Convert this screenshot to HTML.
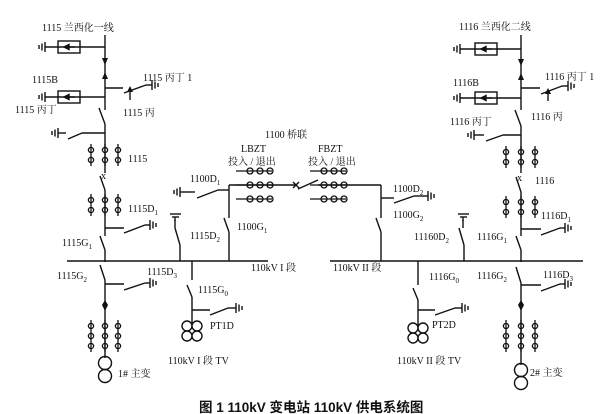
<!DOCTYPE html>
<html><head><meta charset="utf-8"><style>
html,body{margin:0;padding:0;background:#fff;}
svg{display:block;}
text{font-family:"Liberation Serif","Noto Serif CJK SC","Noto Sans CJK SC",serif;font-size:10px;fill:#111;}
.t{font-family:"Liberation Sans","Noto Sans CJK SC",sans-serif;font-size:13.5px;font-weight:bold;}
</style></head><body>
<svg width="608" height="414" viewBox="0 0 608 414" xmlns="http://www.w3.org/2000/svg">
<defs>
<g id="gL" stroke="#111" stroke-width="1.4" fill="none"><line x1="0" y1="-5" x2="0" y2="5"/><line x1="-3" y1="-3.5" x2="-3" y2="3.5"/><line x1="-6" y1="-2" x2="-6" y2="2"/></g>
<g id="gR" stroke="#111" stroke-width="1.4" fill="none"><line x1="0" y1="-5" x2="0" y2="5"/><line x1="3" y1="-3.5" x2="3" y2="3.5"/><line x1="6" y1="-2" x2="6" y2="2"/></g>
<g id="c2" stroke="#111" stroke-width="1.3" fill="none"><circle cx="0" cy="0" r="2.6"/><circle cx="0" cy="10" r="2.6"/><line x1="0" y1="-6" x2="0" y2="16"/></g>
<g id="c3" stroke="#111" stroke-width="1.3" fill="none"><circle cx="0" cy="0" r="2.6"/><circle cx="0" cy="10" r="2.6"/><circle cx="0" cy="20" r="2.6"/><line x1="0" y1="-6" x2="0" y2="26"/></g>
<g id="h3" stroke="#111" stroke-width="1.3" fill="none"><line x1="-14" y1="0" x2="22" y2="0"/><circle cx="0" cy="0" r="3"/><circle cx="10" cy="0" r="3"/><circle cx="20" cy="0" r="3"/></g>
<g id="box" stroke="#111" stroke-width="1.4" fill="none"><rect x="0" y="-6" width="22" height="12"/><line x1="7" y1="0" x2="17" y2="0"/><path d="M6 0 L11 -2.5 L11 2.5Z" fill="#111"/></g>
<g id="tv" stroke="#111" stroke-width="1.4" fill="#fff"><circle cx="-5" cy="-5" r="5"/><circle cx="5" cy="-5" r="5"/><circle cx="-5" cy="5" r="5"/><circle cx="5" cy="5" r="5"/></g>
</defs>
<g stroke="#111" stroke-width="1.4" fill="none">
<line x1="105" y1="35" x2="105" y2="110"/>
<line x1="45" y1="47" x2="105" y2="47"/>
<line x1="45" y1="97" x2="105" y2="97"/>
<line x1="105" y1="88" x2="123" y2="88"/>
<line x1="124" y1="93" x2="146" y2="85"/><line x1="146" y1="85" x2="152" y2="85"/>
<line x1="130" y1="90" x2="130" y2="100"/>
<line x1="99" y1="108" x2="105" y2="124"/>
<line x1="105" y1="124" x2="105" y2="173"/>
<line x1="105" y1="133" x2="82" y2="133"/><line x1="82" y1="133" x2="68" y2="139"/><line x1="58" y1="133" x2="66" y2="133"/>
<line x1="100" y1="176" x2="105" y2="190"/>
<line x1="105" y1="190" x2="105" y2="236"/>
<line x1="105" y1="228" x2="124" y2="228"/><line x1="124" y1="233" x2="145" y2="225"/><line x1="145" y1="225" x2="150" y2="225"/>
<line x1="100" y1="236" x2="105" y2="250"/>
<line x1="105" y1="250" x2="105" y2="262"/>
<line x1="100" y1="265" x2="105" y2="280"/>
<line x1="105" y1="280" x2="105" y2="358"/>
<line x1="105" y1="284" x2="124" y2="284"/><line x1="124" y1="290" x2="145" y2="283"/><line x1="145" y1="283" x2="150" y2="283"/>
<line x1="67" y1="261" x2="268" y2="261" stroke-width="1.6"/>
<line x1="175" y1="228" x2="180" y2="245"/><line x1="180" y1="245" x2="180" y2="261"/>
<line x1="175" y1="220" x2="175" y2="228"/>
<line x1="192" y1="261" x2="192" y2="280"/>
<line x1="187" y1="285" x2="192" y2="297"/>
<line x1="192" y1="297" x2="192" y2="325"/>
<line x1="192" y1="310" x2="210" y2="310"/><line x1="210" y1="315" x2="228" y2="308"/><line x1="228" y1="308" x2="236" y2="308"/>
<line x1="180" y1="192" x2="195" y2="192"/><line x1="197" y1="198" x2="218" y2="190"/>
<line x1="218" y1="190" x2="229" y2="190"/>
<line x1="229" y1="185" x2="229" y2="218"/>
<line x1="224" y1="218" x2="229" y2="232"/>
<line x1="229" y1="232" x2="229" y2="261"/>
<line x1="229" y1="185" x2="296" y2="185"/>
<line x1="293" y1="182" x2="299" y2="188"/><line x1="299" y1="182" x2="293" y2="188"/>
<line x1="298" y1="189" x2="318" y2="180"/>
<line x1="318" y1="185" x2="381" y2="185"/>
<line x1="381" y1="185" x2="381" y2="218"/>
<line x1="376" y1="218" x2="381" y2="232"/>
<line x1="381" y1="232" x2="381" y2="261"/>
<line x1="381" y1="198" x2="394" y2="198"/><line x1="394" y1="203" x2="414" y2="196"/><line x1="414" y1="196" x2="428" y2="196"/>
<line x1="330" y1="261" x2="583" y2="261" stroke-width="1.6"/>
<line x1="459" y1="228" x2="464" y2="245"/><line x1="464" y1="245" x2="464" y2="261"/>
<line x1="463" y1="220" x2="463" y2="228"/>
<line x1="418" y1="261" x2="418" y2="285"/>
<line x1="413" y1="288" x2="418" y2="300"/>
<line x1="418" y1="300" x2="418" y2="327"/>
<line x1="418" y1="310" x2="435" y2="310"/><line x1="435" y1="315" x2="455" y2="308"/><line x1="455" y1="308" x2="462" y2="308"/>
<line x1="521" y1="35" x2="521" y2="110"/>
<line x1="460" y1="49" x2="521" y2="49"/>
<line x1="460" y1="98" x2="521" y2="98"/>
<line x1="521" y1="88" x2="540" y2="88"/>
<line x1="541" y1="94" x2="562" y2="86"/><line x1="562" y1="86" x2="568" y2="86"/>
<line x1="548" y1="91" x2="548" y2="101"/>
<line x1="515" y1="110" x2="521" y2="126"/>
<line x1="521" y1="126" x2="521" y2="173"/>
<line x1="521" y1="135" x2="503" y2="135"/><line x1="503" y1="135" x2="486" y2="141"/><line x1="474" y1="135" x2="484" y2="135"/>
<line x1="516" y1="177" x2="521" y2="192"/>
<line x1="521" y1="192" x2="521" y2="236"/>
<line x1="521" y1="229" x2="541" y2="229"/><line x1="541" y1="235" x2="560" y2="228"/><line x1="560" y1="228" x2="565" y2="228"/>
<line x1="516" y1="236" x2="521" y2="250"/>
<line x1="521" y1="250" x2="521" y2="262"/>
<line x1="516" y1="267" x2="521" y2="283"/>
<line x1="521" y1="283" x2="521" y2="365"/>
<line x1="521" y1="285" x2="541" y2="285"/><line x1="541" y1="291" x2="560" y2="284"/><line x1="560" y1="284" x2="565" y2="284"/>
<circle cx="105" cy="363" r="6.5"/><circle cx="105" cy="376" r="6.5"/>
<circle cx="521" cy="370" r="6.5"/><circle cx="521" cy="383" r="6.5"/>
</g>
<g fill="#111">
<path d="M102 58 L108 58 L105 65Z"/><path d="M102 79 L108 79 L105 72Z"/>
<path d="M127 92 L133 92 L130 86Z"/>
<path d="M518 59 L524 59 L521 66Z"/><path d="M518 80 L524 80 L521 73Z"/>
<path d="M545 94 L551 94 L548 88Z"/>
<path d="M105 300 L108 305 L105 311 L102 305Z"/>
<path d="M521 300 L524 305 L521 311 L518 305Z"/>
</g>
<text x="101" y="179" font-size="9">x</text>
<text x="517" y="181" font-size="9">x</text>
<use href="#gL" x="45" y="47"/><use href="#gL" x="45" y="97"/>
<use href="#gR" x="152" y="85"/><use href="#gL" x="58" y="133"/>
<use href="#gR" x="150" y="225"/><use href="#gR" x="150" y="283"/>
<use href="#gL" x="180" y="192"/><use href="#gR" x="236" y="308"/>
<use href="#gR" x="428" y="196"/><use href="#gR" x="462" y="308"/>
<use href="#gL" x="460" y="49"/><use href="#gL" x="460" y="98"/>
<use href="#gR" x="568" y="86"/><use href="#gL" x="474" y="135"/>
<use href="#gR" x="565" y="228"/><use href="#gR" x="565" y="284"/>
<g stroke="#111" stroke-width="1.4"><line x1="170" y1="214" x2="181" y2="214"/><line x1="172" y1="217" x2="179" y2="217"/><line x1="175" y1="217" x2="175" y2="221"/>
<line x1="458" y1="214" x2="469" y2="214"/><line x1="460" y1="217" x2="467" y2="217"/><line x1="463" y1="217" x2="463" y2="221"/></g>
<use href="#box" x="58" y="47"/><use href="#box" x="58" y="97"/>
<use href="#box" x="475" y="49"/><use href="#box" x="475" y="98"/>
<use href="#c2" x="91" y="150"/><use href="#c2" x="105" y="150"/><use href="#c2" x="118" y="150"/>
<use href="#c2" x="91" y="200"/><use href="#c2" x="105" y="200"/><use href="#c2" x="118" y="200"/>
<use href="#c3" x="91" y="326"/><use href="#c3" x="105" y="326"/><use href="#c3" x="118" y="326"/>
<use href="#c2" x="506" y="152"/><use href="#c2" x="521" y="152"/><use href="#c2" x="535" y="152"/>
<use href="#c2" x="506" y="202"/><use href="#c2" x="521" y="202"/><use href="#c2" x="535" y="202"/>
<use href="#c3" x="506" y="326"/><use href="#c3" x="521" y="326"/><use href="#c3" x="535" y="326"/>
<use href="#h3" x="250" y="171"/><use href="#h3" x="250" y="185"/><use href="#h3" x="250" y="199"/>
<use href="#h3" x="324" y="171"/><use href="#h3" x="324" y="185"/><use href="#h3" x="324" y="199"/>
<use href="#tv" x="192" y="331"/><use href="#tv" x="418" y="333"/>
<text x="42" y="31">1115 兰西化一线</text>
<text x="32" y="83">1115B</text>
<text x="15" y="113">1115 丙丁</text>
<text x="123" y="116">1115 丙</text>
<text x="143" y="81">1115 丙丁 1</text>
<text x="128" y="162">1115</text>
<text x="128" y="212">1115D<tspan font-size="7" dy="3">1</tspan></text>
<text x="62" y="246">1115G<tspan font-size="7" dy="3">1</tspan></text>
<text x="57" y="279">1115G<tspan font-size="7" dy="3">2</tspan></text>
<text x="118" y="377">1# 主变</text>
<text x="190" y="239">1115D<tspan font-size="7" dy="3">2</tspan></text>
<text x="147" y="275">1115D<tspan font-size="7" dy="3">3</tspan></text>
<text x="198" y="293">1115G<tspan font-size="7" dy="3">0</tspan></text>
<text x="210" y="329">PT1D</text>
<text x="168" y="364">110kV I 段 TV</text>
<text x="190" y="182">1100D<tspan font-size="7" dy="3">1</tspan></text>
<text x="237" y="230">1100G<tspan font-size="7" dy="3">1</tspan></text>
<text x="251" y="271">110kV I 段</text>
<text x="265" y="138">1100 桥联</text>
<text x="241" y="152">LBZT</text>
<text x="228" y="165">投入 / 退出</text>
<text x="318" y="152">FBZT</text>
<text x="308" y="165">投入 / 退出</text>
<text x="333" y="271">110kV II 段</text>
<text x="393" y="192">1100D<tspan font-size="7" dy="3">2</tspan></text>
<text x="393" y="218">1100G<tspan font-size="7" dy="3">2</tspan></text>
<text x="414" y="240">11160D<tspan font-size="7" dy="3">2</tspan></text>
<text x="429" y="280">1116G<tspan font-size="7" dy="3">0</tspan></text>
<text x="432" y="328">PT2D</text>
<text x="397" y="364">110kV II 段 TV</text>
<text x="459" y="30">1116 兰西化二线</text>
<text x="453" y="86">1116B</text>
<text x="545" y="80">1116 丙丁 1</text>
<text x="531" y="120">1116 丙</text>
<text x="450" y="125">1116 丙丁</text>
<text x="535" y="184">1116</text>
<text x="541" y="219">1116D<tspan font-size="7" dy="3">1</tspan></text>
<text x="477" y="240">1116G<tspan font-size="7" dy="3">1</tspan></text>
<text x="477" y="279">1116G<tspan font-size="7" dy="3">2</tspan></text>
<text x="543" y="278">1116D<tspan font-size="7" dy="3">3</tspan></text>
<text x="530" y="376">2# 主变</text>
<text class="t" x="199" y="412">图 1  110kV 变电站 110kV 供电系统图</text>
</svg>
</body></html>
